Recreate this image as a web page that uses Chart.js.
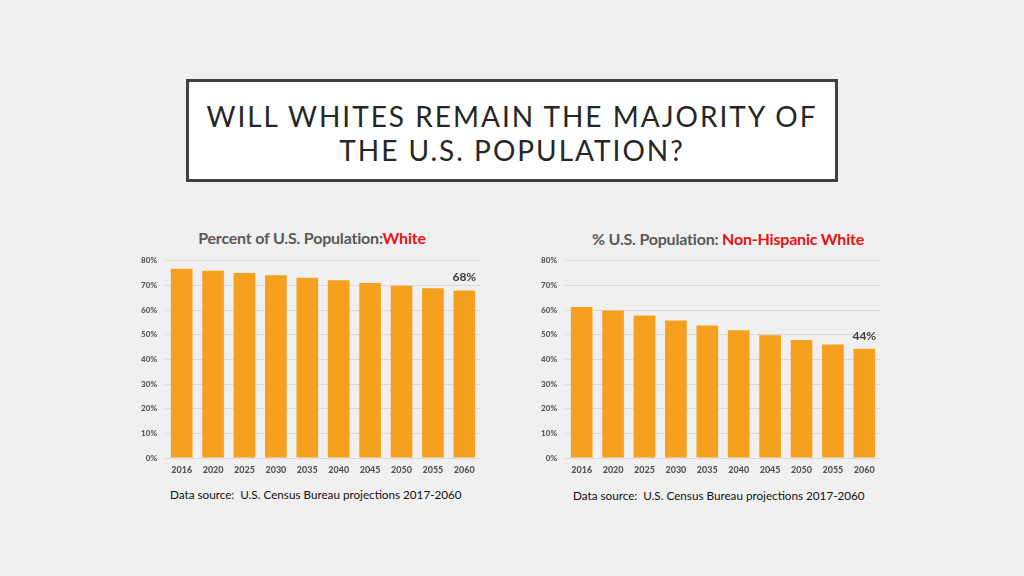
<!DOCTYPE html>
<html>
<head>
<meta charset="utf-8">
<script src="https://cdn.jsdelivr.net/npm/chart.js@4"></script>
<style>
  html, body { margin: 0; padding: 0; }
  body { width: 1024px; height: 576px; background: #f0f0f0; position: relative; overflow: hidden; font-family: Lato, "Open Sans", sans-serif; }
  #titlebox { position: absolute; left: 186px; top: 79px; width: 646px; height: 97px; border: 3px solid #404040; background: #ffffff; }
  #titlebox div { position: absolute; left: 0; width: 100%; text-align: center; font-size: 28px; letter-spacing: 2px; color: #262626; line-height: 1; }
  .ctitle { position: absolute; font-weight: bold; font-size: 16px; color: #595959; white-space: nowrap; transform: translateX(-50%); letter-spacing: -0.2px; }
  .ctitle span { color: #ee1111; }
  .src { position: absolute; font-size: 11.7px; color: #111; white-space: nowrap; }
  canvas { position: absolute; }
</style>
</head>
<body>
<div id="titlebox">
  <div style="top:20px">WILL WHITES REMAIN THE MAJORITY OF</div>
  <div style="top:54px">THE U.S. POPULATION?</div>
</div>
<div class="ctitle" style="left:312px; top:228px;">Percent of U.S. Population:<span>White</span></div>
<div class="ctitle" style="left:728px; top:229px;">% U.S. Population: <span>Non-Hispanic White</span></div>
<div style="position:absolute;left:130px;top:247px;width:360px;height:233px"><canvas id="c1"></canvas></div>
<div style="position:absolute;left:530px;top:247px;width:360px;height:233px"><canvas id="c2"></canvas></div>
<div class="src" style="left:170px; top:487px;">Data source:&nbsp; U.S. Census Bureau projections 2017-2060</div>
<div class="src" style="left:573px; top:488px;">Data source:&nbsp; U.S. Census Bureau projections 2017-2060</div>
<script>
const years = ["2016","2020","2025","2030","2035","2040","2045","2050","2055","2060"];
const whitePct = [76.8, 76.0, 75.1, 74.1, 73.1, 72.1, 71.0, 69.9, 68.9, 68.0];
const nhWhitePct = [61.3, 59.8, 57.8, 55.8, 53.8, 51.8, 49.8, 47.9, 46.0, 44.3];
const lastLabels = ["68%", "44%"];
const yTicks = [0, 10, 20, 30, 40, 50, 60, 70, 80];

const labelPlugin = {
  id: 'lastLabel',
  afterDatasetsDraw(chart, args, opts) {
    const meta = chart.getDatasetMeta(0);
    const el = meta.data[meta.data.length - 1];
    const ctx = chart.ctx;
    ctx.save();
    ctx.font = 'bold 12px Lato, sans-serif';
    ctx.fillStyle = '#404040';
    ctx.textAlign = 'center';
    ctx.textBaseline = 'bottom';
    ctx.fillText(opts.text, el.x, el.y - 7);
    ctx.restore();
  }
};

function makeChart(id, data, label) {
  return new Chart(document.getElementById(id), {
    type: 'bar',
    data: {
      labels: years,
      datasets: [{
        data: data,
        backgroundColor: '#f5a11f',
        borderWidth: 0,
        categoryPercentage: 1.0,
        barPercentage: 0.69
      }]
    },
    plugins: [labelPlugin],
    options: {
      responsive: true,
      maintainAspectRatio: false,
      animation: false,
      layout: { padding: { top: 7, right: 10, left: 0, bottom: 0 } },
      plugins: {
        legend: { display: false },
        tooltip: { enabled: false },
        lastLabel: { text: label }
      },
      scales: {
        x: {
          grid: { display: false, drawTicks: false },
          border: { display: false },
          ticks: { color: '#555555', font: { family: 'Lato', weight: '900', size: 9 }, padding: 7, maxRotation: 0 },
          afterFit(s) { s.height = 22; }
        },
        y: {
          min: 0, max: 80,
          afterBuildTicks(s) { s.ticks = yTicks.map(v => ({ value: v })); },
          grid: { color: '#d9d9d9', drawTicks: false },
          border: { display: false },
          ticks: { color: '#555555', font: { family: 'Lato', weight: '900', size: 8 }, padding: 9, callback: v => v + '%' },
          afterFit(s) { s.width = 36; }
        }
      }
    }
  });
}
makeChart('c1', whitePct, lastLabels[0]);
makeChart('c2', nhWhitePct, lastLabels[1]);
</script>
</body>
</html>
